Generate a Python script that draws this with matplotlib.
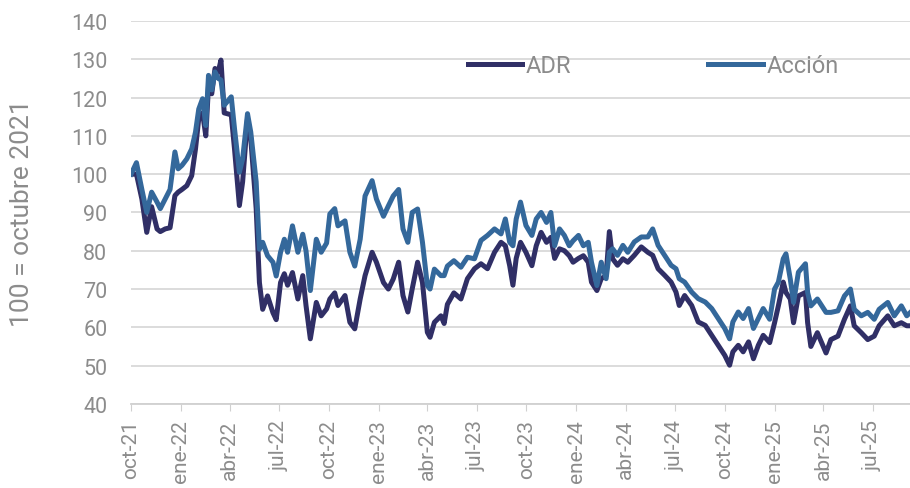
import pandas as pd
import matplotlib
matplotlib.use('Agg')
import matplotlib.pyplot as plt

plt.rcParams['font.family'] = ['Roboto', 'DejaVu Sans']

# Fechas y valores (100 = octubre 2021)
fechas = [
    '2021-10-01', '2021-10-11', '2021-10-21', '2021-10-30', '2021-11-08', '2021-11-18',
    '2021-11-24', '2021-12-03', '2021-12-12', '2021-12-21', '2021-12-27', '2022-01-03',
    '2022-01-12', '2022-01-21', '2022-01-28', '2022-02-03', '2022-02-10', '2022-02-16',
    '2022-02-21', '2022-02-27', '2022-03-05', '2022-03-11', '2022-03-16', '2022-03-22',
    '2022-04-04', '2022-04-10', '2022-04-19', '2022-04-25', '2022-05-04', '2022-05-10',
    '2022-05-20', '2022-05-26', '2022-06-01', '2022-06-10', '2022-06-20', '2022-06-26',
    '2022-07-04', '2022-07-11', '2022-07-17', '2022-07-26', '2022-08-05', '2022-08-14',
    '2022-08-20', '2022-08-28', '2022-09-08', '2022-09-17', '2022-09-27', '2022-10-03',
    '2022-10-12', '2022-10-18', '2022-10-31', '2022-11-09', '2022-11-18', '2022-11-28',
    '2022-12-07', '2022-12-20', '2022-12-28', '2023-01-10', '2023-01-19', '2023-01-28',
    '2023-02-07', '2023-02-15', '2023-02-24', '2023-03-04', '2023-03-14', '2023-03-23',
    '2023-04-01', '2023-04-06', '2023-04-14', '2023-04-26', '2023-05-02', '2023-05-08',
    '2023-05-20', '2023-06-02', '2023-06-14', '2023-06-27', '2023-07-09', '2023-07-21',
    '2023-08-03', '2023-08-15', '2023-08-23', '2023-08-31', '2023-09-06', '2023-09-12',
    '2023-09-20', '2023-09-30', '2023-10-11', '2023-10-19', '2023-10-28', '2023-11-07',
    '2023-11-15', '2023-11-22', '2023-12-01', '2023-12-10', '2023-12-19', '2023-12-26',
    '2024-01-05', '2024-01-14', '2024-01-23', '2024-01-29', '2024-02-08', '2024-02-16',
    '2024-02-25', '2024-03-02', '2024-03-08', '2024-03-17', '2024-03-27', '2024-04-05',
    '2024-04-17', '2024-04-30', '2024-05-12', '2024-05-21', '2024-05-31', '2024-06-12',
    '2024-06-24', '2024-07-03', '2024-07-09', '2024-07-19', '2024-08-01', '2024-08-13',
    '2024-08-26', '2024-09-07', '2024-09-19', '2024-10-01', '2024-10-10', '2024-10-16',
    '2024-10-26', '2024-11-04', '2024-11-14', '2024-11-23', '2024-12-02', '2024-12-11',
    '2024-12-23', '2025-01-01', '2025-01-08', '2025-01-17', '2025-01-22', '2025-01-30',
    '2025-02-05', '2025-02-14', '2025-02-27', '2025-03-03', '2025-03-09', '2025-03-21',
    '2025-04-06', '2025-04-15', '2025-04-28', '2025-05-10', '2025-05-21', '2025-05-28',
    '2025-06-10', '2025-06-22', '2025-07-04', '2025-07-13', '2025-07-29', '2025-08-10',
    '2025-08-23', '2025-09-02', '2025-09-08',
]

adr = [
    100.0, 100.0, 93.5, 84.8, 91.5, 85.7,
    85.0, 85.7, 86.0, 94.4, 95.3, 96.0,
    97.0, 99.6, 106.6, 114.5, 116.0, 110.0,
    123.0, 121.0, 127.6, 126.7, 129.8, 116.0,
    115.5, 106.6, 91.8, 98.0, 114.5, 109.3,
    91.0, 71.7, 64.7, 68.2, 63.8, 62.0,
    71.7, 74.0, 71.0, 74.3, 67.4, 73.5,
    65.7, 57.0, 66.5, 63.0, 64.8, 67.4,
    69.0, 65.7, 68.3, 61.3, 59.6, 67.4,
    73.5, 79.6, 77.0, 71.7, 70.0, 72.6,
    77.0, 68.3, 64.0, 70.0, 77.0, 71.7,
    58.7, 57.4, 61.3, 63.0, 61.0, 66.0,
    69.0, 67.4, 72.7, 75.3, 76.6, 75.3,
    79.6, 82.2, 81.3, 76.1, 71.0, 78.0,
    82.2, 79.6, 76.1, 81.3, 84.8, 82.2,
    83.5, 78.0, 80.5, 80.0, 78.7, 77.0,
    78.0, 78.7, 77.0, 71.8, 69.6, 72.7,
    73.5, 85.0, 77.9, 76.2, 77.9, 77.0,
    78.8, 81.0, 79.6, 78.8, 75.3, 73.6,
    71.8, 69.2, 65.7, 68.3, 65.7, 61.4,
    60.5, 57.9, 55.3, 52.7, 50.1, 53.6,
    55.3, 53.6, 56.2, 51.8, 55.3, 57.9,
    56.0, 61.2, 65.6, 71.8, 69.1, 67.4,
    61.2, 68.2, 69.1, 61.2, 55.0, 58.6,
    53.3, 56.8, 57.7, 62.1, 65.6, 60.4,
    58.6, 56.8, 57.7, 60.4, 63.0, 60.4,
    61.2, 60.4, 60.4,
]

accion = [
    100.0, 103.0, 96.0, 90.0, 95.3, 92.7,
    91.0, 93.5, 96.0, 105.8, 101.4, 102.3,
    104.0, 106.6, 111.0, 117.0, 119.7, 112.7,
    125.8, 122.0, 126.7, 125.0, 124.6, 118.0,
    120.2, 111.9, 100.5, 104.0, 115.8, 111.0,
    98.0, 80.4, 82.2, 78.7, 77.0, 73.4,
    79.6, 83.0, 79.6, 86.5, 79.6, 84.3,
    80.0, 69.6, 83.0, 79.6, 82.0, 89.6,
    91.0, 86.5, 87.8, 79.6, 76.0, 83.0,
    94.3, 98.3, 93.5, 89.0, 91.7, 94.3,
    96.0, 85.7, 82.2, 90.0, 90.9, 82.2,
    70.9, 70.0, 75.2, 73.5, 73.5, 76.0,
    77.4, 75.7, 78.3, 77.9, 82.7, 84.0,
    85.7, 84.4, 88.3, 82.2, 81.3, 88.3,
    92.7, 86.6, 84.0, 88.3, 90.0, 87.4,
    90.0, 81.3, 85.7, 84.0, 81.3, 82.6,
    84.0, 81.3, 82.2, 77.0, 70.9, 77.0,
    72.7, 79.6, 80.5, 78.8, 81.4, 79.6,
    82.3, 83.6, 83.6, 85.7, 81.4, 78.8,
    76.2, 75.3, 72.7, 71.8, 69.2, 67.5,
    66.6, 64.9, 62.3, 59.7, 57.0, 61.4,
    64.0, 62.3, 64.9, 59.7, 62.3, 64.9,
    62.1, 70.0, 71.8, 77.9, 79.2, 72.6,
    66.5, 74.4, 76.6, 69.1, 65.6, 67.4,
    63.9, 63.9, 64.3, 68.2, 70.0, 64.7,
    63.0, 63.9, 62.1, 64.7, 66.5, 63.0,
    65.6, 63.0, 63.8,
]

etiquetas_x = ['oct-21', 'ene-22', 'abr-22', 'jul-22', 'oct-22', 'ene-23', 'abr-23', 'jul-23',
               'oct-23', 'ene-24', 'abr-24', 'jul-24', 'oct-24', 'ene-25', 'abr-25', 'jul-25']
ticks_x = pd.date_range('2021-10-01', periods=len(etiquetas_x), freq='3MS')

gris = '#8c8c8c'
fechas = pd.to_datetime(fechas)

fig = plt.figure(figsize=(9.1, 4.89), dpi=100)
ax = fig.add_axes([0.144, 0.172, 0.856, 0.783])

ax.plot(fechas, adr, color='#302f66', linewidth=3.6, label='ADR')
ax.plot(fechas, accion, color='#34689b', linewidth=3.6, label='Acción')

ax.set_ylim(40, 140)
ax.set_yticks(range(40, 141, 10))
ax.set_xlim(fechas[0], fechas[-1])
ax.set_xticks(ticks_x)
ax.set_xticklabels(etiquetas_x, rotation=90)

ax.grid(axis='y', color='#d9d9d9', linewidth=1.3)
ax.set_axisbelow(True)
for s in ['top', 'right', 'left']:
    ax.spines[s].set_visible(False)
ax.spines['bottom'].set_color('#d0d0d0')
ax.spines['bottom'].set_linewidth(1.3)
ax.tick_params(axis='y', length=0, pad=17, labelsize=15.5, labelcolor=gris)
ax.tick_params(axis='x', length=5, color='#d0d0d0', labelsize=15, labelcolor=gris, pad=6)

ax.set_ylabel('100 = octubre 2021', fontsize=19, color=gris)
ax.yaxis.set_label_coords(-0.124, 0.5)

leg = ax.legend(ncol=2, loc='center left', bbox_to_anchor=(0.432, 0.8825), frameon=False,
                handlelength=2.3, handletextpad=0.17, columnspacing=5.8, fontsize=17,
                borderpad=0, borderaxespad=0)
for t in leg.get_texts():
    t.set_color(gris)

fig.savefig('out.png', dpi=100)
